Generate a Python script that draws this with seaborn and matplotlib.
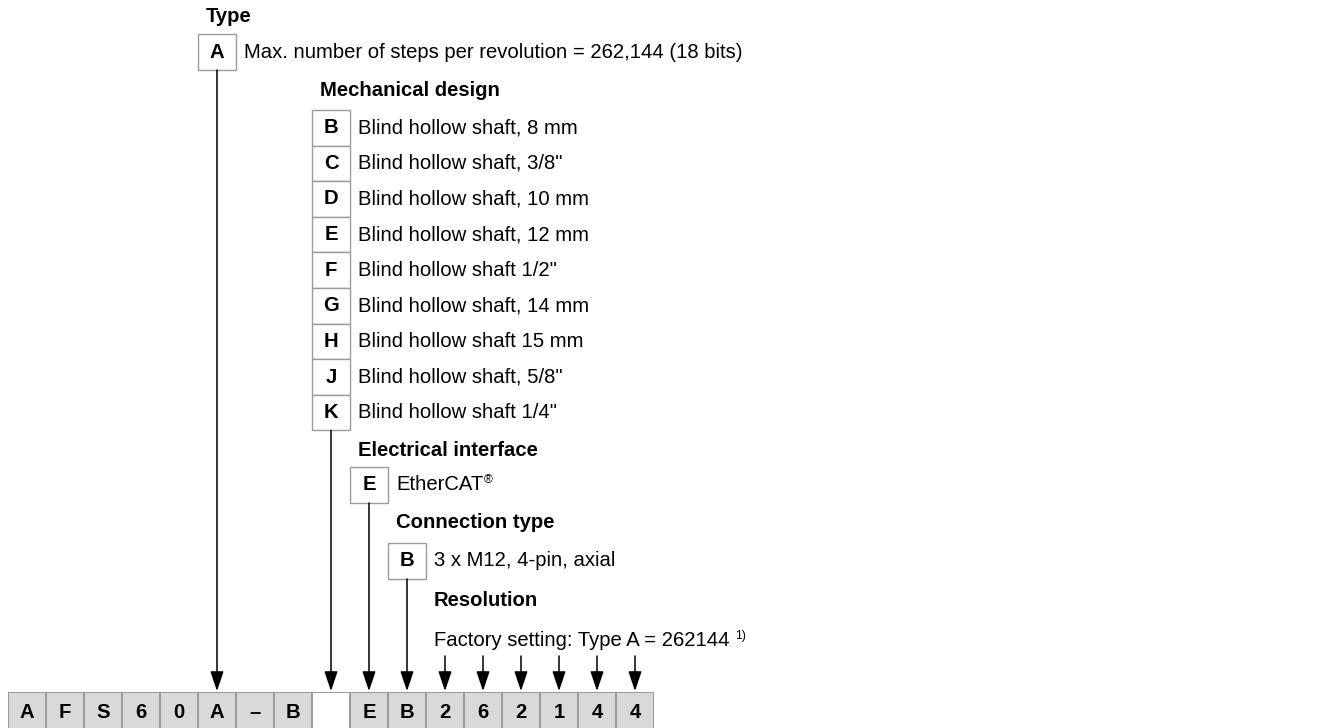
import matplotlib
matplotlib.use("Agg")
import matplotlib.pyplot as plt
import numpy as np
import seaborn as sns
from matplotlib.colors import ListedColormap
from matplotlib.patches import Rectangle

# type code data
type_codes = ["A"]
type_labels = ["Max. number of steps per revolution = 262,144 (18 bits)"]

mech_codes = ["B", "C", "D", "E", "F", "G", "H", "J", "K"]
mech_labels = [
    "Blind hollow shaft, 8 mm",
    'Blind hollow shaft, 3/8"',
    "Blind hollow shaft, 10 mm",
    "Blind hollow shaft, 12 mm",
    'Blind hollow shaft 1/2"',
    "Blind hollow shaft, 14 mm",
    "Blind hollow shaft 15 mm",
    'Blind hollow shaft, 5/8"',
    'Blind hollow shaft 1/4"',
]

elec_codes = ["E"]
elec_labels = ["EtherCAT"]

conn_codes = ["B"]
conn_labels = ["3 x M12, 4-pin, axial"]

resolution_note = "Factory setting: Type A = 262144"

code_chars = ["A", "F", "S", "6", "0", "A", "–", "B", "", "E", "B", "2", "6", "2", "1", "4", "4"]
code_filled = [1, 1, 1, 1, 1, 1, 1, 1, 0, 1, 1, 1, 1, 1, 1, 1, 1]
resolution_cols = [11, 12, 13, 14, 15, 16]

# layout (pixels)
W, H = 1335, 728
X0, CW = 8, 38
CELL_TOP = 692
FS = 14.6
BORDER = "#9a9a9a"

sns.set_style("white")
plt.rcParams["font.family"] = ["Liberation Sans", "DejaVu Sans"]
plt.rcParams["text.color"] = "black"

fig = plt.figure(figsize=(W / 100, H / 100), dpi=100)
ax = fig.add_axes([0, 0, 1, 1])
ax.set_xlim(0, W)
ax.set_ylim(H, 0)
ax.axis("off")


def col_left(i):
    return X0 + i * CW


def arrow_down(x, y0, y1):
    ax.annotate(
        "", xy=(x, y1), xytext=(x, y0),
        arrowprops=dict(arrowstyle="-|>,head_length=1.0,head_width=0.34",
                        mutation_scale=12, color="black", lw=1.1,
                        shrinkA=0, shrinkB=0),
    )


def sup_after(t, y, sup, gap=1):
    bb = t.get_window_extent(renderer=fig.canvas.get_renderer())
    xr = ax.transData.inverted().transform((bb.x1, bb.y1))[0]
    ax.text(xr + gap, y - 5, sup, fontsize=FS * 0.6, ha="left", va="center")


# blocks: title, codes, labels, column, title y, box top, row height
blocks = [
    ("Type", type_codes, type_labels, 5, 17, 34, 36),
    ("Mechanical design", mech_codes, mech_labels, 8, 90, 110, 35.6),
    ("Electrical interface", elec_codes, elec_labels, 9, 450, 467, 36),
    ("Connection type", conn_codes, conn_labels, 10, 523, 543, 36),
]

for title, codes, labels, col, ty, top, rh in blocks:
    xl = col_left(col)
    ax.text(xl + 8, ty, title, fontsize=FS, fontweight="bold", ha="left", va="center")
    for k, (c, lab) in enumerate(zip(codes, labels)):
        y = top + k * rh
        ax.add_patch(Rectangle((xl, y), CW, rh, facecolor="white", edgecolor=BORDER, lw=1))
        ax.text(xl + CW / 2, y + rh / 2, c, fontsize=FS, fontweight="bold", ha="center", va="center")
        t = ax.text(xl + CW + 8, y + rh / 2, lab, fontsize=FS, ha="left", va="center")
        if lab == "EtherCAT":
            sup_after(t, y + rh / 2, "®")
    bottom = top + len(codes) * rh
    arrow_down(xl + CW / 2, bottom, CELL_TOP - 1)

# resolution block
rl = col_left(resolution_cols[0])
ax.text(rl + 8, 601, "Resolution", fontsize=FS, fontweight="bold", ha="left", va="center")
t = ax.text(rl + 8, 641, resolution_note, fontsize=FS, ha="left", va="center")
sup_after(t, 641, "1)", gap=6)
for c in resolution_cols:
    arrow_down(col_left(c) + CW / 2, 656, CELL_TOP - 1)

# code row as a one-line heatmap
ax_code = fig.add_axes([X0 / W, (H - CELL_TOP - 40) / H, len(code_chars) * CW / W, 40 / H])
sns.heatmap(
    np.array([code_filled]),
    ax=ax_code,
    cmap=ListedColormap(["white", "#d9d9d9"]),
    vmin=0, vmax=1,
    annot=np.array([code_chars]),
    fmt="",
    annot_kws={"fontsize": FS, "fontweight": "bold", "color": "black"},
    linewidths=1.2,
    linecolor=BORDER,
    cbar=False,
    xticklabels=False,
    yticklabels=False,
)

fig.savefig("out.png", dpi=100)
